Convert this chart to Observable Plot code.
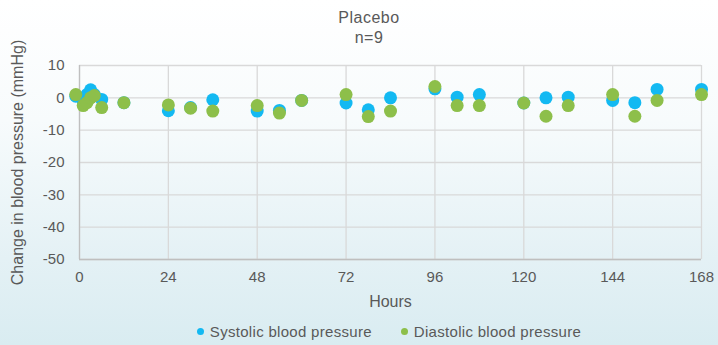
<!DOCTYPE html>
<html><head><meta charset="utf-8">
<script src="https://cdn.jsdelivr.net/npm/d3@7"></script>
<script src="https://cdn.jsdelivr.net/npm/@observablehq/plot@0.6"></script>
<style>
html,body{margin:0;padding:0;}
body{width:718px;height:345px;overflow:hidden;background:linear-gradient(180deg,#ffffff 0%,#f7fbfc 35%,#e4f1f5 75%,#d9ecf1 100%);font-family:"Liberation Sans",Arial,sans-serif;color:#595959;}
#wrap{position:relative;width:718px;height:345px;}
#chart{position:absolute;left:0;top:0;}
.t{position:absolute;left:10px;width:718px;text-align:center;font-size:16px;letter-spacing:0.5px;line-height:19px;}
#legend{position:absolute;left:0;top:323px;width:718px;display:flex;justify-content:center;gap:29px;font-size:15px;letter-spacing:0.3px;padding-left:60px;box-sizing:border-box;}
#legend span{display:inline-flex;align-items:center;}
#legend i{display:inline-block;width:7px;height:7px;border-radius:50%;margin-right:6px;}
</style></head>
<body><div id="wrap">
<div id="chart"></div>
<div class="t" style="top:8px">Placebo</div>
<div class="t" style="top:28px">n=9</div>
<div id="legend"></div>
</div>
<script>
const hours = [-1,1,2,3,4,6,12,24,30,36,48,54,60,72,78,84,96,102,108,120,126,132,144,150,156,168];
const systolic = [0.5,-1.0,1.0,2.5,1.0,-0.5,-1.5,-4.0,-3.0,-0.6,-4.1,-3.9,-0.8,-1.6,-3.7,0.0,2.8,0.2,1.0,-1.6,0.0,0.2,-0.8,-1.5,2.6,2.6];
const diastolic = [1.0,-2.4,-1.5,0.0,0.7,-3.0,-1.5,-2.2,-3.2,-4.1,-2.4,-4.7,-0.8,1.0,-5.8,-4.1,3.5,-2.4,-2.4,-1.6,-5.7,-2.4,1.0,-5.7,-0.8,1.0];
const seriesNames = ["Systolic blood pressure","Diastolic blood pressure"];
const seriesColors = ["#13b9f2","#8dbf4a"];
const xTicks = [0,24,48,72,96,120,144,168];
const yTicks = [10,0,-10,-20,-30,-40,-50];

const rows = [];
hours.forEach((h,i)=>{ rows.push({h, v: systolic[i], s: seriesNames[0]}); });
hours.forEach((h,i)=>{ rows.push({h, v: diastolic[i], s: seriesNames[1]}); });

const chart = Plot.plot({
  width: 718, height: 345,
  marginTop: 65, marginBottom: 86, marginLeft: 79, marginRight: 17,
  style: {background: "transparent", fontFamily: "'Liberation Sans', Arial, sans-serif", fontSize: "15px", color: "#595959", overflow: "visible"},
  x: {domain: [0,168], ticks: xTicks, tickFormat: d => String(d), tickSize: 0, tickPadding: 12, label: "Hours", labelAnchor: "center", labelArrow: "none", labelOffset: 47},
  y: {domain: [-50,10], ticks: yTicks, tickFormat: d => String(d), tickSize: 0, tickPadding: 15, label: "Change in blood pressure (mmHg)", labelAnchor: "center", labelArrow: "none", labelOffset: 68},
  color: {domain: seriesNames, range: seriesColors},
  marks: [
    Plot.ruleY(yTicks, {stroke: "#d9d9d9", strokeWidth: 1.3}),
    Plot.ruleX(xTicks, {stroke: "#d9d9d9", strokeWidth: 1.3}),
    Plot.ruleX([0], {stroke: "#bfbfbf", strokeWidth: 1.3}),
    Plot.ruleY([-50], {stroke: "#bfbfbf", strokeWidth: 1.3}),
    Plot.dot(rows, {x: "h", y: "v", fill: "s", r: 6.5, stroke: "none"})
  ]
});
chart.querySelectorAll('[aria-label="y-axis label"] text, [aria-label="x-axis label"] text').forEach(t => t.style.fontSize = "16px");
document.getElementById("chart").appendChild(chart);

const lg = document.getElementById("legend");
seriesNames.forEach((n,i)=>{
  const sp = document.createElement("span");
  sp.innerHTML = `<i style="background:${seriesColors[i]}"></i>${n}`;
  lg.appendChild(sp);
});
</script>
</body></html>
